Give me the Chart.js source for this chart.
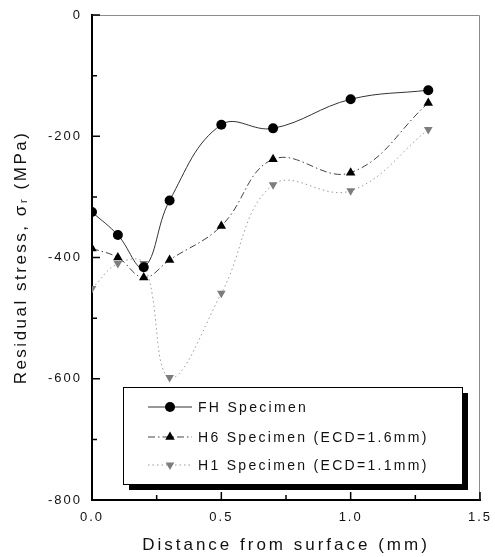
<!DOCTYPE html>
<html>
<head>
<meta charset="utf-8">
<script src="https://cdn.jsdelivr.net/npm/chart.js@4.4.1/dist/chart.umd.min.js"></script>
<style>
  body { margin: 0; background: #fff; }
  #wrap { width: 495px; height: 557px; }
</style>
</head>
<body>
<div id="wrap"><canvas id="chartCanvas" width="495" height="557"></canvas></div>
<script>
"use strict";

// distance from surface (mm)
const distances = [0, 0.1, 0.2, 0.3, 0.5, 0.7, 1.0, 1.3];
// residual stress (MPa)
const fhStress = [-325, -363, -416, -306, -181, -187, -139, -124];
const h6Stress = [-385, -400, -433, -404, -348, -238, -260, -145];
const h1Stress = [-451, -410, -410, -598, -459, -280, -290, -189];

const seriesLabels = [
  "FH Specimen",
  "H6 Specimen (ECD=1.6mm)",
  "H1 Specimen (ECD=1.1mm)",
];

const xTicks = [0, 0.5, 1.0, 1.5];
const yTicks = [-800, -600, -400, -200, 0];

function toPoints(values) {
  return values.map((v, i) => ({ x: distances[i], y: v }));
}

const FONT = "'Liberation Sans', Arial, sans-serif";

function drawMarker(ctx, style, x, y, r, rot, fill) {
  ctx.save();
  ctx.fillStyle = fill;
  ctx.beginPath();
  if (style === "circle") {
    ctx.arc(x, y, r, 0, Math.PI * 2);
  } else {
    const dir = rot === 180 ? -1 : 1;
    const h = r * 1.5;
    const w = r * 1.732;
    ctx.moveTo(x, y - dir * r);
    ctx.lineTo(x + w / 2, y - dir * (r - h));
    ctx.lineTo(x - w / 2, y - dir * (r - h));
    ctx.closePath();
  }
  ctx.fill();
  ctx.restore();
}

// wider letter spacing for the axis titles, like the scanned figure
const titleSpacing = { x: "3px", y: "2.5px" };

const framePlugin = {
  id: "frame",
  afterLayout(chart) {
    Object.keys(titleSpacing).forEach((id) => {
      const s = chart.scales[id];
      if (!s || s._spaced) return;
      const orig = s.drawTitle;
      s.drawTitle = function () {
        const c = this.ctx;
        const prev = c.letterSpacing;
        c.letterSpacing = titleSpacing[id];
        orig.call(this);
        c.letterSpacing = prev;
      };
      s._spaced = true;
    });
  },
  beforeDraw(chart) {
    chart.ctx.letterSpacing = "2px";
  },
  afterDraw(chart) {
    const { ctx, chartArea, scales } = chart;
    const { left, right, top, bottom } = chartArea;
    ctx.save();

    // top and right frame
    ctx.strokeStyle = "#8c8c8c";
    ctx.lineWidth = 1;
    ctx.beginPath();
    ctx.moveTo(left, top + 0.5);
    ctx.lineTo(right - 0.5, top + 0.5);
    ctx.lineTo(right - 0.5, bottom);
    ctx.stroke();

    // inward ticks
    ctx.strokeStyle = "#000";
    ctx.lineWidth = 1.5;
    ctx.beginPath();
    for (let v = -800; v <= 0; v += 100) {
      const py = scales.y.getPixelForValue(v);
      const len = v % 200 === 0 ? 8 : 5;
      ctx.moveTo(left, py);
      ctx.lineTo(left + len, py);
    }
    for (let v = 0; v <= 1.5001; v += 0.25) {
      const px = scales.x.getPixelForValue(v);
      const len = Math.abs((v * 2) - Math.round(v * 2)) < 1e-6 ? 8 : 5;
      ctx.moveTo(px, bottom);
      ctx.lineTo(px, bottom - len);
    }
    ctx.stroke();

    // legend box
    const bx = 123, by = 387, bw = 339, bh = 97;
    ctx.fillStyle = "#000";
    ctx.fillRect(bx + 6, by + 6, bw, bh);
    ctx.fillStyle = "#fff";
    ctx.fillRect(bx, by, bw, bh);
    ctx.strokeStyle = "#000";
    ctx.lineWidth = 1;
    ctx.strokeRect(bx + 0.5, by + 0.5, bw, bh);

    const rows = [407, 437, 465];
    ctx.font = "14px " + FONT;
    ctx.letterSpacing = "2.3px";
    ctx.textBaseline = "middle";
    chart.data.datasets.forEach((ds, i) => {
      const ry = rows[i];
      ctx.save();
      ctx.strokeStyle = ds.borderColor;
      ctx.lineWidth = ds.borderWidth;
      ctx.setLineDash(ds.borderDash || []);
      ctx.beginPath();
      ctx.moveTo(148, ry);
      ctx.lineTo(192, ry);
      ctx.stroke();
      ctx.restore();
      drawMarker(ctx, ds.pointStyle, 170, ry, ds.pointRadius, ds.rotation || 0, ds.pointBackgroundColor);
      ctx.fillStyle = "#111";
      ctx.fillText(ds.label, 198, ry + 1);
    });

    ctx.restore();
  },
};

const ctx = document.getElementById("chartCanvas").getContext("2d");

new Chart(ctx, {
  type: "line",
  data: {
    datasets: [
      {
        label: seriesLabels[0],
        data: toPoints(fhStress),
        borderColor: "#333",
        borderWidth: 1,
        pointStyle: "circle",
        pointRadius: 5,
        pointBackgroundColor: "#000",
        pointBorderWidth: 0,
        tension: 0.4,
      },
      {
        label: seriesLabels[1],
        data: toPoints(h6Stress),
        borderColor: "#444",
        borderWidth: 1,
        borderDash: [7, 3, 1.5, 3],
        pointStyle: "triangle",
        pointRadius: 5.5,
        pointBackgroundColor: "#000",
        pointBorderWidth: 0,
        tension: 0.4,
      },
      {
        label: seriesLabels[2],
        data: toPoints(h1Stress),
        borderColor: "#9a9a9a",
        borderWidth: 1,
        borderDash: [1.5, 3],
        pointStyle: "triangle",
        rotation: 180,
        pointRotation: 180,
        pointRadius: 5,
        pointBackgroundColor: "#7d7d7d",
        pointBorderWidth: 0,
        tension: 0.4,
      },
    ],
  },
  options: {
    responsive: false,
    animation: false,
    layout: { padding: { top: 15, right: 15, left: 0, bottom: 0 } },
    plugins: {
      legend: { display: false },
      tooltip: { enabled: false },
    },
    scales: {
      x: {
        type: "linear",
        min: 0,
        max: 1.5,
        afterBuildTicks(scale) {
          scale.ticks = xTicks.map((v) => ({ value: v }));
        },
        afterFit(scale) {
          scale.height = 57;
          scale.paddingLeft = 0;
          scale.paddingRight = 0;
        },
        grid: { display: false, drawTicks: false },
        border: { display: true, color: "#000", width: 2 },
        ticks: {
          padding: 10,
          color: "#111",
          font: { family: FONT, size: 13 },
          callback: (v) => Number(v).toFixed(1),
        },
        title: {
          display: true,
          text: "Distance from surface (mm)",
          color: "#111",
          font: { family: FONT, size: 17 },
          padding: { top: 0, bottom: 1 },
        },
      },
      y: {
        min: -800,
        max: 0,
        afterBuildTicks(scale) {
          scale.ticks = yTicks.map((v) => ({ value: v }));
        },
        afterFit(scale) {
          scale.width = 92;
          scale.paddingTop = 0;
          scale.paddingBottom = 0;
        },
        grid: { display: false, drawTicks: false },
        border: { display: true, color: "#000", width: 2 },
        ticks: {
          padding: 10,
          color: "#111",
          font: { family: FONT, size: 13 },
          callback: (v) => String(v),
        },
        title: {
          display: true,
          text: "Residual stress, σᵣ (MPa)",
          color: "#111",
          font: { family: FONT, size: 17 },
          padding: { top: 11, bottom: 0 },
        },
      },
    },
  },
  plugins: [framePlugin],
});
</script>
</body>
</html>
